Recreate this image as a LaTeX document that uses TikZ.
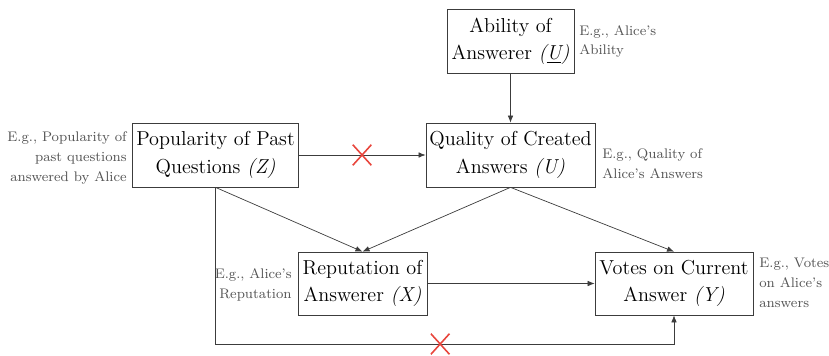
\documentclass[tikz,border=0pt]{standalone}
\usepackage{tikz}
\usetikzlibrary{positioning,arrows.meta,shapes.misc}
\usepackage{xcolor}
\definecolor{lineGray}{HTML}{3C3C3C}
\definecolor{noteGray}{HTML}{555555}
\definecolor{crossRed}{HTML}{E8453C}

\begin{document}
\begin{tikzpicture}[
    causalBox/.style={rectangle, draw=lineGray, thin, fill=white, align=center, inner sep=2pt, minimum height=1.28cm, font=\fontsize{11.5}{15.5}\selectfont},
    noteText/.style={text=noteGray, inner sep=0pt, font=\fontsize{7.9}{11.2}\selectfont},
    causalArrow/.style={draw=lineGray, thin, -{Latex[length=4pt,width=3.2pt]}},
    crossMark/.style={cross out, draw=crossRed, line width=0.9pt, minimum width=0.34cm, minimum height=0.38cm, inner sep=0pt}
]
    \useasboundingbox (0,0) rectangle (16.58,-7.10);

    \node[causalBox, minimum width=2.54cm] (ability) at (10.21,-0.82) {Ability of\\Answerer \textit{(\underline{U})}};
    \node[causalBox, minimum width=3.30cm] (popularity) at (4.31,-3.10) {Popularity of Past\\Questions \textit{(Z)}};
    \node[causalBox, minimum width=3.38cm] (quality) at (10.21,-3.10) {Quality of Created\\Answers \textit{(U)}};
    \node[causalBox, minimum width=2.58cm, minimum height=1.26cm] (reputation) at (7.25,-5.67) {Reputation of\\Answerer \textit{(X)}};
    \node[causalBox, minimum width=3.16cm, minimum height=1.26cm] (votes) at (13.48,-5.67) {Votes on Current\\Answer \textit{(Y)}};

    \node[noteText, align=left, anchor=north west] (abilityNote) at (11.58,-0.50) {E.g., Alice's\\Ability};
    \node[noteText, align=right, anchor=east] (popularityNote) at (2.54,-3.16) {E.g., Popularity of\\past questions\\answered by Alice};
    \node[noteText, align=left, anchor=west] (qualityNote) at (12.04,-3.28) {E.g., Quality of\\Alice's Answers};
    \node[noteText, align=right, anchor=east] (reputationNote) at (5.84,-5.70) {E.g., Alice's\\Reputation};
    \node[noteText, align=left, anchor=west] (votesNote) at (15.18,-5.66) {E.g., Votes\\on Alice's\\answers};

    \coordinate (bottomLeft) at (popularity.south |- 0,-6.88);
    \coordinate (bottomRight) at (votes.south |- 0,-6.88);

    \draw[causalArrow] (ability) -- (quality);
    \draw[causalArrow] (popularity) -- node[crossMark] (crossTop) {} (quality);
    \draw[causalArrow] (popularity.south) -- (reputation.north);
    \draw[causalArrow] (quality.south) -- (reputation.north);
    \draw[causalArrow] (quality.south) -- (votes.north);
    \draw[causalArrow] (reputation) -- (votes);
    \draw[causalArrow] (popularity.south) -- (bottomLeft) -- node[crossMark, pos=0.49] (crossBottom) {} (bottomRight) -- (votes.south);
\end{tikzpicture}
\end{document}
